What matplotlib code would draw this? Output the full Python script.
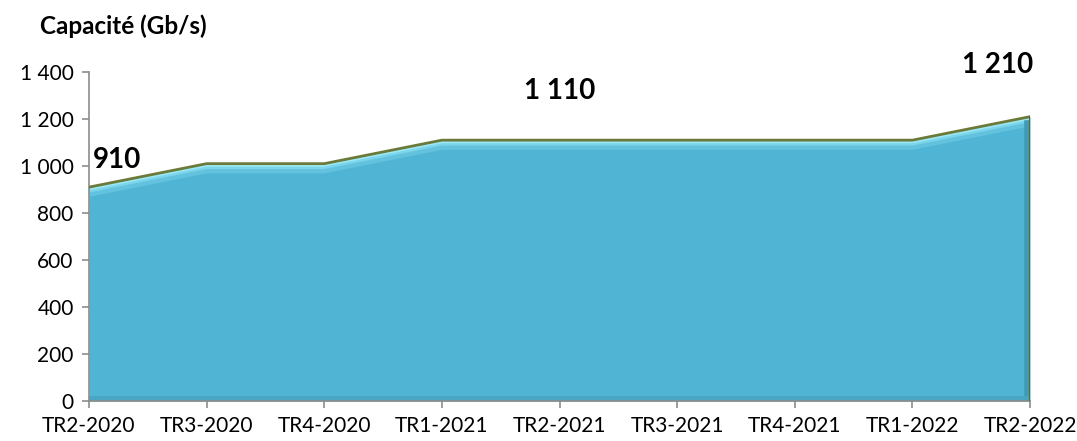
import numpy as np
import matplotlib.pyplot as plt

quarters = ['TR2-2020', 'TR3-2020', 'TR4-2020', 'TR1-2021', 'TR2-2021',
            'TR3-2021', 'TR4-2021', 'TR1-2022', 'TR2-2022']
capacity = [910, 1010, 1010, 1110, 1110, 1110, 1110, 1110, 1210]
# which points carry a value label, and the text shown
labelled = {0: '910', 4: '1 110', 8: '1 210'}
yticks = [0, 200, 400, 600, 800, 1000, 1200, 1400]
ytick_labels = ['0', '200', '400', '600', '800', '1 000', '1 200', '1 400']

plt.rcParams['font.family'] = ['Lato', 'DejaVu Sans']

fig = plt.figure(figsize=(10.77, 4.41), dpi=100)
ax = fig.add_axes([0.0826, 0.0907, 0.8738, 0.746])

x = np.arange(len(quarters))
y = np.array(capacity)

ax.fill_between(x, 0, y, color='#50B5D4', lw=0, zorder=1)
# light highlight just below the top edge (bevel look)
ax.plot(x, y - 12, color='#9BE8F5', lw=3, zorder=2, solid_capstyle='butt')
ax.plot(x, y - 22, color='#7CD5EA', lw=3, zorder=2, solid_capstyle='butt')
ax.plot(x, y - 32, color='#63C3DE', lw=3, zorder=2, solid_capstyle='butt')
# darker right/bottom edge
ax.plot([x[-1] - 0.025, x[-1] - 0.025], [0, y[-1] - 25], color='#3F9BB7', lw=4, zorder=2)
ax.plot([x[0], x[-1]], [10, 10], color='#48A6C2', lw=4, zorder=2)
# olive outline
ax.plot(x, y, color='#6B7A3A', lw=2, zorder=3)
ax.plot([x[-1], x[-1]], [0, y[-1]], color='#5A6A32', lw=1.5, zorder=3)

offsets = {0: (3, 10), 4: (0, 26), 8: (2, 28)}
aligns = {0: 'left', 4: 'center', 8: 'right'}
for i, txt in labelled.items():
    ax.annotate(txt, (x[i], y[i]), xytext=offsets[i],
                textcoords='offset points', ha=aligns[i], va='bottom',
                fontsize=20, fontweight='bold', color='black')

ax.set_xlim(0, len(quarters) - 1)
ax.set_ylim(0, 1400)
ax.set_xticks(x)
ax.set_xticklabels(quarters, fontsize=15)
ax.set_yticks(yticks)
ax.set_yticklabels(ytick_labels, fontsize=15)

for side in ['top', 'right']:
    ax.spines[side].set_visible(False)
for side in ['left', 'bottom']:
    ax.spines[side].set_color('#8C8C8C')
    ax.spines[side].set_linewidth(1.2)
ax.tick_params(axis='both', color='#8C8C8C', length=5, width=1.2, direction='out')
ax.tick_params(axis='x', pad=6)
ax.tick_params(axis='y', pad=6)

fig.text(0.037, 0.922, 'Capacité (Gb/s)', fontsize=17.5, fontweight='bold')

fig.savefig('out.png', dpi=100)
